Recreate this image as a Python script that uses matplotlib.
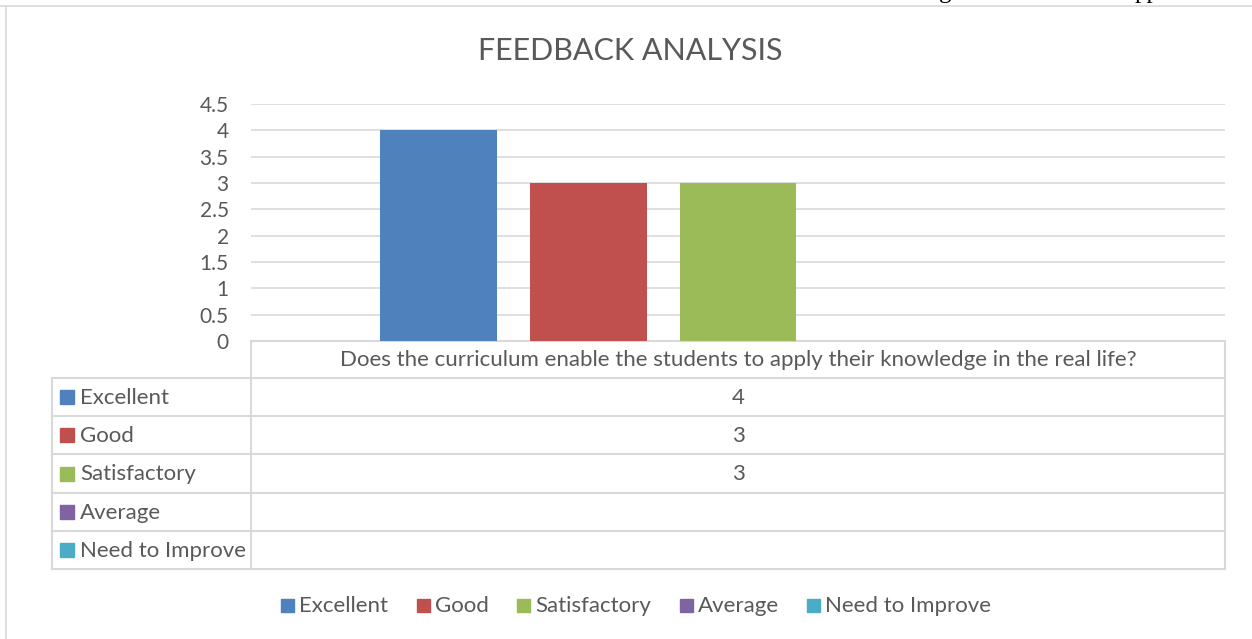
import numpy as np
import matplotlib
matplotlib.use("Agg")
import matplotlib.pyplot as plt
from matplotlib.patches import Rectangle

plt.rcParams['font.family'] = ['Lato', 'DejaVu Sans']

title = "FEEDBACK ANALYSIS"
question = "Does the curriculum enable the students to apply their knowledge in the real life?"
ratings = ["Excellent", "Good", "Satisfactory", "Average", "Need to Improve"]
counts = [4, 3, 3, np.nan, np.nan]
colors = ["#4F81BD", "#C0504D", "#9BBB59", "#8064A2", "#4BACC6"]
yticks = [0, 0.5, 1, 1.5, 2, 2.5, 3, 3.5, 4, 4.5]

W, H = 1252, 639
fig = plt.figure(figsize=(W / 100, H / 100), dpi=100)

# overlay in pixel coordinates for frame, table and legend
ov = fig.add_axes([0, 0, 1, 1])
ov.set_xlim(0, W)
ov.set_ylim(H, 0)
ov.axis('off')

grid_c = "#D9D9D9"
text_c = "#595959"

# chart frame
ov.plot([0, W], [6, 6], color=grid_c, lw=1.2)
ov.plot([6, 6], [6, H], color=grid_c, lw=1.2)

# bits of page text above the chart
ov.text(945, -2, "g", family="Liberation Serif", fontsize=18, ha='center', va='baseline')
ov.text(1147, -2, "pp", family="Liberation Serif", fontsize=18, ha='center', va='baseline')

# plot area
px_l, px_r, px_t, px_b = 251, 1225, 104, 341
ax = fig.add_axes([px_l / W, 1 - px_b / H, (px_r - px_l) / W, (px_b - px_t) / H])
x = np.arange(len(ratings))
ax.bar(x, counts, width=0.78, color=colors, zorder=3)
ax.set_xlim(-1.25, 5.25)
ax.set_ylim(0, 4.5)
ax.set_yticks(yticks)
ax.set_yticklabels([f"{t:g}" for t in yticks])
ax.set_xticks([])
ax.grid(axis='y', color=grid_c, lw=1.2, zorder=0)
for s in ax.spines.values():
    s.set_visible(False)
ax.tick_params(axis='y', length=0, pad=16, labelsize=15, labelcolor=text_c)
ax.patch.set_alpha(0)

fig.text(630 / W, 1 - 51 / H, title, ha='center', va='center', fontsize=22, color=text_c)

# data table
row_h = 38.2
head_top = px_b
head_bot = 378
tab_l = 52
fs = 16
rows_y = [head_bot + i * row_h for i in range(len(ratings) + 1)]
ov.plot([px_l, px_r], [head_top, head_top], color=grid_c, lw=1.5)
for y in rows_y:
    ov.plot([tab_l, px_r], [y, y], color=grid_c, lw=1.5)
ov.plot([tab_l, tab_l], [head_bot, rows_y[-1]], color=grid_c, lw=1.5)
ov.plot([px_l, px_l], [head_top, rows_y[-1]], color=grid_c, lw=1.5)
ov.plot([px_r, px_r], [head_top, rows_y[-1]], color=grid_c, lw=1.5)

mid_x = (px_l + px_r) / 2
ov.text(mid_x, (head_top + head_bot) / 2 + 1, question, ha='center', va='center',
        fontsize=fs, color=text_c)
for i, (name, val, c) in enumerate(zip(ratings, counts, colors)):
    yc = rows_y[i] + row_h / 2
    ov.add_patch(Rectangle((60, yc - 7), 14, 14, color=c))
    ov.text(80, yc + 1, name, ha='left', va='center', fontsize=fs, color=text_c)
    if not np.isnan(val):
        ov.text(mid_x, yc + 1, f"{val:g}", ha='center', va='center', fontsize=fs, color=text_c)

# legend
leg_y = 605
leg_x = [281, 417, 517, 680, 807]
for lx, name, c in zip(leg_x, ratings, colors):
    ov.add_patch(Rectangle((lx, leg_y - 6.5), 13, 13, color=c))
    ov.text(lx + 18, leg_y + 1, name, ha='left', va='center', fontsize=fs, color=text_c)

fig.savefig("out.png", dpi=100)
